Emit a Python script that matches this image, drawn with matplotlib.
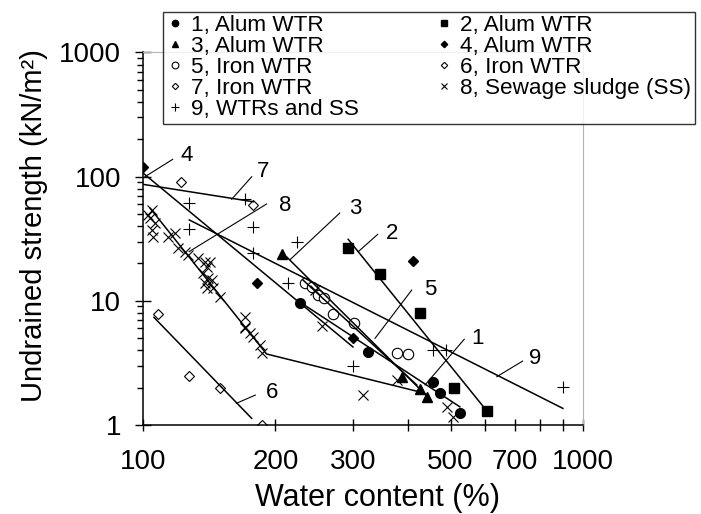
import matplotlib
matplotlib.use('Agg')
import matplotlib.pyplot as plt
from matplotlib.ticker import FixedLocator, LogLocator, NullFormatter, FixedFormatter

plt.rcParams['font.family'] = ['Liberation Sans', 'DejaVu Sans']

# --- measured points (water content %, undrained strength kN/m2) ---
s1_w = [227, 325, 456, 473, 526]
s1_s = [9.55, 3.89, 2.23, 1.82, 1.26]
s2_w = [292, 346, 427, 508, 604]
s2_s = [26.8, 16.4, 7.93, 1.97, 1.30]
s3_w = [207, 387, 425, 442]
s3_s = [23.7, 2.45, 1.95, 1.69]
s4_w = [100, 182, 300, 411]
s4_s = [120, 13.8, 5.05, 20.9]
s5_w = [233, 242, 250, 258, 270, 301, 377, 400]
s5_s = [13.8, 12.8, 11.2, 10.45, 7.77, 6.57, 3.82, 3.73]
s6_w = [108, 127, 150, 186]
s6_s = [7.9, 2.48, 1.97, 1.0]
s7_w = [122, 178]
s7_s = [90, 59]
s8_w = [104.6, 102.8, 103.7, 106.5, 104.6, 105.5, 114.2, 118.2, 120.3, 124.6,
        126.7, 133.6, 138.3, 142, 139.5, 137.1, 140.7, 143.3, 138.3, 139.5,
        144.5, 149.6, 170.5, 170.5, 170.5, 175, 178, 184.6, 186, 245.6,
        254.8, 377, 316, 491, 506]
s8_s = [53.8, 49, 46.2, 42, 37.2, 32.8, 32.8, 34.9, 26.5, 24.8,
        23.4, 22, 20.6, 20.6, 18.8, 16.6, 15.2, 14.6, 13.8, 12.6,
        12.6, 10.8, 7.45, 6.2, 6.0, 5.5, 5.15, 4.4, 3.78, 12.2,
        6.27, 2.3, 1.74, 1.4, 1.17]
s9_w = [127.4, 127.4, 170.5, 178, 178, 223.5, 213.7, 300.6, 456, 489, 900]
s9_s = [61.7, 37.9, 66, 39.5, 24.1, 29.9, 13.8, 3.0, 4.02, 4.02, 2.01]

# --- fitted trend lines ---
l1_w, l1_s = [224, 525], [10.1, 1.40]
l2_w, l2_s = [292.6, 594], [31.3, 1.40]
l3_w, l3_s = [212, 444], [22.6, 1.68]
l4_w, l4_s = [100, 300], [107, 4.25]
l5_w, l5_s = [231, 419], [14.7, 2.1]
l6_w, l6_s = [105.9, 176.6], [7.36, 1.13]
l7_w, l7_s = [100, 178], [86.7, 62.8]
l8_w, l8_s = [103.7, 190.9, 421.7], [55.9, 3.73, 1.86]
l9_w, l9_s = [127.4, 900], [44.8, 1.36]

# --- curve numbers with leader lines ---
tag_names = ['1', '2', '3', '4', '5', '6', '7', '8', '9']
tag_lead_w = [(437.5, 537), (308.6, 341.5), (216, 280), (101, 116.8), (336.8, 408),
              (163, 180), (159, 176.6), (127.3, 190.9), (637, 729)]
tag_lead_s = [(2.1, 4.9), (24.9, 34.3), (21.5, 50.9), (99.8, 137.8), (4.99, 12.2),
              (1.495, 1.74), (65.7, 99.8), (24.9, 60.2), (2.45, 3.27)]
tag_w = [575, 367.5, 303, 125.7, 449, 196.5, 187, 210, 778]
tag_s = [4.99, 35, 55.6, 149, 12.4, 1.84, 109.5, 58.5, 3.44]

x_ticks = [100, 200, 300, 400, 500, 600, 700, 800, 900, 1000]
x_labels = ['100', '200', '300', '', '500', '', '700', '', '', '1000']
y_ticks = [1, 10, 100, 1000]
y_labels = ['1', '10', '100', '1000']

fig = plt.figure(figsize=(7.01, 5.14), dpi=100)
ax = fig.add_axes([0.204, 0.1732, 0.6277, 0.7247])

open_kw = dict(mfc='white', mec='black', mew=0.8, ls='none')
fill_kw = dict(color='black', ls='none')
h = {}
h[1], = ax.plot(s1_w, s1_s, marker='o', ms=7, label='1, Alum WTR', **fill_kw)
h[2], = ax.plot(s2_w, s2_s, marker='s', ms=7, label='2, Alum WTR', **fill_kw)
h[3], = ax.plot(s3_w, s3_s, marker='^', ms=7.5, label='3, Alum WTR', **fill_kw)
h[4], = ax.plot(s4_w, s4_s, marker='D', ms=5, label='4, Alum WTR', **fill_kw)
h[5], = ax.plot(s5_w, s5_s, marker='o', ms=7.5, label='5, Iron WTR', **open_kw)
h[6], = ax.plot(s6_w, s6_s, marker='D', ms=5, label='6, Iron WTR', **open_kw)
h[7], = ax.plot(s7_w, s7_s, marker='D', ms=5, label='7, Iron WTR', **open_kw)
h[8], = ax.plot(s8_w, s8_s, marker='x', ms=7, mew=0.8, label='8, Sewage sludge (SS)', **fill_kw)
h[9], = ax.plot(s9_w, s9_s, marker='+', ms=8, mew=0.8, label='9, WTRs and SS', **fill_kw)

for lw_, ls_ in [(l1_w, l1_s), (l2_w, l2_s), (l3_w, l3_s), (l4_w, l4_s), (l5_w, l5_s),
                 (l6_w, l6_s), (l7_w, l7_s), (l8_w, l8_s), (l9_w, l9_s)]:
    ax.plot(lw_, ls_, color='black', lw=1.1)

for name, lw_, ls_, tw, ts in zip(tag_names, tag_lead_w, tag_lead_s, tag_w, tag_s):
    ax.plot(lw_, ls_, color='black', lw=0.8)
    ax.text(tw, ts, name, fontsize=16, ha='center', va='center')

ax.set_xscale('log')
ax.set_yscale('log')
ax.set_xlim(100, 1000)
ax.set_ylim(1, 1000)

ax.xaxis.set_major_locator(FixedLocator(x_ticks))
ax.xaxis.set_major_formatter(FixedFormatter(x_labels))
ax.xaxis.set_minor_locator(FixedLocator([]))
ax.yaxis.set_major_locator(FixedLocator(y_ticks))
ax.yaxis.set_major_formatter(FixedFormatter(y_labels))
ax.yaxis.set_minor_locator(LogLocator(base=10, subs=range(2, 10)))
ax.yaxis.set_minor_formatter(NullFormatter())

ax.tick_params(axis='x', which='major', direction='inout', length=8.5, width=1,
               labelsize=20, pad=13)
ax.tick_params(axis='y', which='major', direction='inout', length=11.5, width=1,
               labelsize=20, pad=10)
ax.tick_params(axis='y', which='minor', direction='out', length=4.5, width=1)

for side in ['top', 'right']:
    ax.spines[side].set_color('#b4b4b4')
for side in ['left', 'bottom']:
    ax.spines[side].set_linewidth(1.1)

ax.set_xlabel('Water content (%)', fontsize=22)
ax.xaxis.set_label_coords(0.534, -0.155)
ax.set_ylabel('Undrained strength (kN/m²)', fontsize=21)
ax.yaxis.set_label_coords(-0.215, 0.536)

# row-major order in a two-column legend: column 1 = 1,3,5,7,9; column 2 = 2,4,6,8
order = [1, 3, 5, 7, 9, 2, 4, 6, 8]
leg = fig.legend([h[i] for i in order], [h[i].get_label() for i in order],
                 loc='upper left', bbox_to_anchor=(0.2325, 0.9767), ncol=2,
                 fontsize=16.2, markerscale=0.65, handlelength=0.8, handletextpad=0.3,
                 columnspacing=3.4, labelspacing=0.0, borderpad=0.15,
                 frameon=True, fancybox=False, borderaxespad=0)
leg.get_frame().set_edgecolor('black')
leg.get_frame().set_linewidth(1)

fig.savefig('out.png', dpi=100)
